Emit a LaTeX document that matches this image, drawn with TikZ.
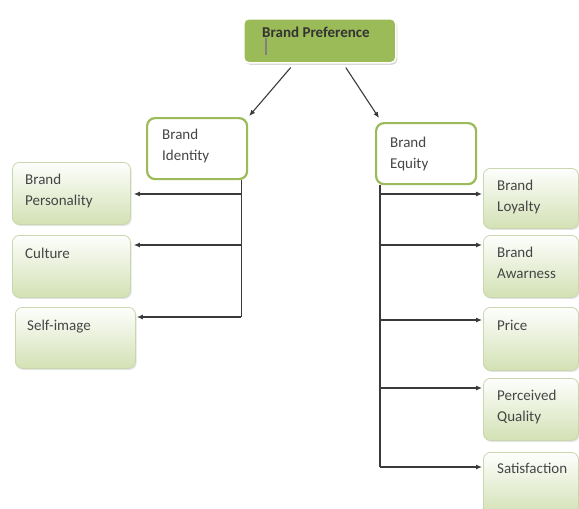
\documentclass[tikz,border=0pt]{standalone}
\usepackage{fontspec}
\setmainfont{Carlito}
\usetikzlibrary{shadows,arrows.meta,calc}
\definecolor{olivegreen}{HTML}{9BBB59}
\definecolor{leafgreen}{HTML}{D3E1B4}
\definecolor{leafborder}{HTML}{C9D7AE}
\definecolor{txtgray}{HTML}{454545}
\definecolor{linegray}{HTML}{3A3A3A}
\begin{document}
\begin{tikzpicture}[x=1pt,y=-1pt,
  font=\fontsize{15}{21}\selectfont,
  lbl/.style 2 args={anchor=north west, align=left, inner sep=0pt, text=txtgray, xshift=#1, yshift=#2},
  leaf/.style={draw=leafborder, line width=0.8pt, rounded corners=7pt, top color=white!97!leafgreen, bottom color=leafgreen,
    drop shadow={opacity=0.22, shadow xshift=1.2pt, shadow yshift=-1.5pt},
    minimum width=118pt, minimum height=62pt, inner sep=0pt, anchor=north west},
  rleaf/.style={leaf, minimum width=95pt},
  mid/.style={draw=olivegreen, line width=2.2pt, fill=white, rounded corners=8pt, inner sep=0pt, anchor=north west,
    minimum width=100pt, minimum height=61pt},
  conn/.style={draw=linegray, line width=1.1pt},
  arr/.style={conn, -{Latex[length=6pt,width=5pt]}}
]
\useasboundingbox (0,0) rectangle (579,509);

% top
\node[draw=white, line width=1.5pt, fill=olivegreen, rounded corners=5pt, anchor=north west,
  minimum width=152pt, minimum height=44pt, inner sep=0pt,
  drop shadow={opacity=0.3, shadow xshift=1.5pt, shadow yshift=-2pt},
  label={[lbl={19pt}{-9pt}, font=\fontsize{15}{21}\selectfont\bfseries, text=black!80]north west:Brand Preference}]
  (top) at (243,18) {};
\draw[line width=2.4pt, draw=gray] (266,38) -- (266,55);

% middle
\node[mid, label={[lbl={16pt}{-12pt}]north west:Brand\\Identity}] (identity) at (146,117) {};
\node[mid, label={[lbl={15pt}{-15pt}]north west:Brand\\Equity}] (equity) at (375,122) {};

% left leaves
\node[leaf, label={[lbl={13pt}{-12pt}]north west:Brand\\Personality}] (personality) at (12,162) {};
\node[leaf, label={[lbl={13pt}{-13pt}]north west:Culture}] (culture) at (12,235) {};
\node[leaf, minimum width=120pt, minimum height=61pt, label={[lbl={12pt}{-13pt}]north west:Self-image}] (selfimage) at (15,307) {};

% right leaves
\node[rleaf, minimum height=60pt, label={[lbl={14pt}{-12pt}]north west:Brand\\Loyalty}] (loyalty) at (483,168) {};
\node[rleaf, label={[lbl={14pt}{-12pt}]north west:Brand\\Awarness}] (awareness) at (483,235) {};
\node[rleaf, minimum height=63pt, label={[lbl={14pt}{-13pt}]north west:Price}] (price) at (483,307) {};
\node[rleaf, label={[lbl={14pt}{-12pt}]north west:Perceived\\Quality}] (quality) at (483,378) {};
\node[rleaf, minimum height=63pt, label={[lbl={14pt}{-11pt}]north west:Satisfaction}] (satisfaction) at (483,452) {};

% arrows from top
\draw[arr] ([xshift=-29pt,yshift=-4pt]top.south) -- ([xshift=1pt,yshift=1pt]identity.north east);
\draw[arr] ([xshift=26pt,yshift=-4pt]top.south) -- ([xshift=4pt,yshift=4pt]equity.north west);

% left tree
\coordinate (lt) at ([xshift=-7pt]identity.south east);
\coordinate (lp) at ([xshift=3pt,yshift=-32pt]personality.north east);
\coordinate (lc) at ([xshift=3pt,yshift=-10pt]culture.north east);
\coordinate (ls) at ([xshift=1pt,yshift=-10pt]selfimage.north east);
\draw[conn] (lt) -- (lt |- ls);
\draw[arr] (lt |- lp) -- (lp);
\draw[arr] (lt |- lc) -- (lc);
\draw[arr] (lt |- ls) -- (ls);

% right tree
\coordinate (rt) at ([xshift=5pt]equity.south west);
\coordinate (rl) at ([xshift=-1pt,yshift=-26pt]loyalty.north west);
\coordinate (ra) at ([xshift=-1pt,yshift=-10pt]awareness.north west);
\coordinate (rp) at ([xshift=-1pt,yshift=-13pt]price.north west);
\coordinate (rq) at ([xshift=-1pt,yshift=-10pt]quality.north west);
\coordinate (rs) at ([xshift=-1pt,yshift=-15pt]satisfaction.north west);
\draw[conn] (rt) -- (rt |- rs);
\draw[arr] (rt |- rl) -- (rl);
\draw[arr] (rt |- ra) -- (ra);
\draw[arr] (rt |- rp) -- (rp);
\draw[arr] (rt |- rq) -- (rq);
\draw[arr] (rt |- rs) -- (rs);
\end{tikzpicture}
\end{document}
